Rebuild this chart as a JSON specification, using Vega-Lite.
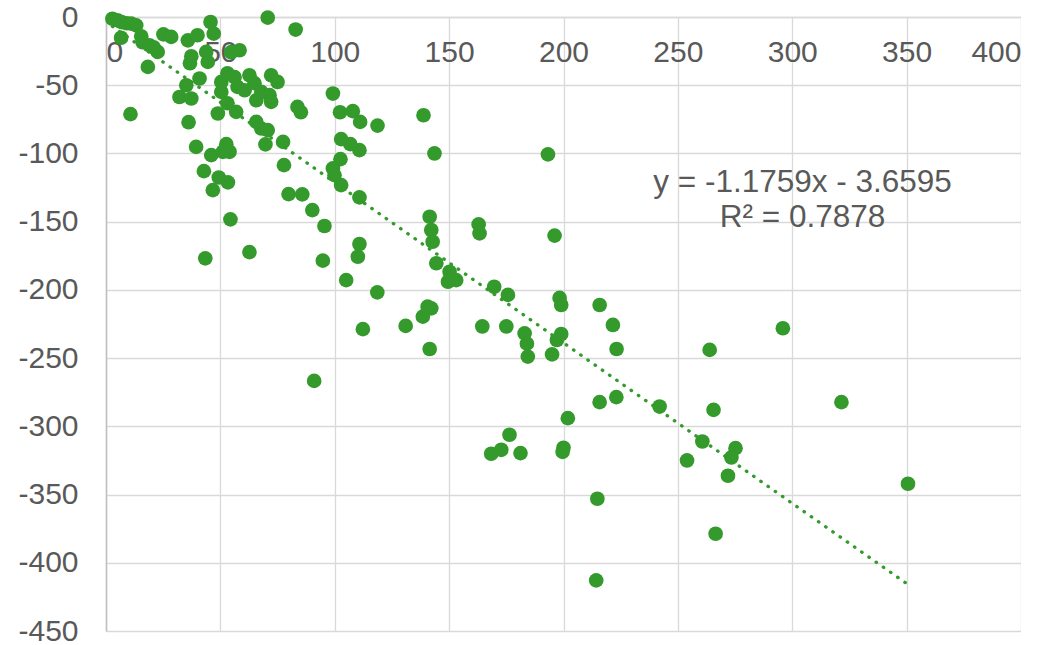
{
  "$schema": "https://vega.github.io/schema/vega-lite/v6.json",
  "width": 915,
  "height": 614,
  "autosize": {"type": "none"},
  "padding": {"left": 106, "top": 17, "right": 0, "bottom": 14},
  "background": "white",
  "config": {
    "view": {"stroke": null},
    "font": "Liberation Sans",
    "axis": {"labelFont": "Liberation Sans", "labelFontSize": 30, "labelColor": "#595959", "ticks": false, "title": null, "gridColor": "#d9d9d9", "gridWidth": 1.3}
  },
  "datasets": {
    "pts": [
      {"x":2.8,"y":-1.3},{"x":5.0,"y":-2.4},{"x":6.8,"y":-3.7},{"x":9.0,"y":-4.6},{"x":11.0,"y":-4.8},{"x":13.2,"y":-6.1},{"x":6.6,"y":-15.2},{"x":15.4,"y":-14.1},{"x":16.0,"y":-18.5},{"x":19.0,"y":-20.7},{"x":20.8,"y":-22.2},{"x":22.6,"y":-25.6},{"x":25.1,"y":-12.7},{"x":28.5,"y":-14.6},{"x":18.3,"y":-36.6},{"x":10.7,"y":-71.2},{"x":45.7,"y":-3.7},{"x":47.1,"y":-12.2},{"x":35.8,"y":-17.1},{"x":40.0,"y":-13.4},{"x":37.3,"y":-28.8},{"x":36.7,"y":-33.9},{"x":43.8,"y":-25.6},{"x":44.5,"y":-32.9},{"x":40.9,"y":-45.1},{"x":35.1,"y":-50.0},{"x":32.1,"y":-58.6},{"x":37.3,"y":-59.7},{"x":58.4,"y":-24.4},{"x":54.7,"y":-25.8},{"x":70.7,"y":-0.5},{"x":82.9,"y":-9.2},{"x":48.9,"y":-70.7},{"x":36.1,"y":-77.1},{"x":53.1,"y":-41.2},{"x":56.2,"y":-44.1},{"x":62.7,"y":-42.7},{"x":64.9,"y":-48.5},{"x":72.2,"y":-42.7},{"x":75.0,"y":-47.6},{"x":50.4,"y":-47.6},{"x":57.5,"y":-51.2},{"x":60.6,"y":-53.7},{"x":67.9,"y":-54.9},{"x":71.5,"y":-57.3},{"x":72.2,"y":-62.2},{"x":50.4,"y":-54.9},{"x":56.9,"y":-69.5},{"x":53.1,"y":-63.2},{"x":65.7,"y":-61.0},{"x":83.7,"y":-65.9},{"x":65.7,"y":-76.9},{"x":67.9,"y":-81.7},{"x":70.7,"y":-82.9},{"x":39.4,"y":-95.2},{"x":46.0,"y":-101.2},{"x":52.6,"y":-93.2},{"x":54.0,"y":-98.8},{"x":51.1,"y":-98.8},{"x":42.8,"y":-113.0},{"x":49.3,"y":-117.6},{"x":53.3,"y":-121.2},{"x":46.7,"y":-126.9},{"x":69.7,"y":-93.4},{"x":77.4,"y":-91.5},{"x":77.8,"y":-108.6},{"x":79.8,"y":-129.8},{"x":54.4,"y":-148.3},{"x":43.4,"y":-176.9},{"x":62.7,"y":-172.3},{"x":99.2,"y":-56.1},{"x":85.2,"y":-69.8},{"x":102.3,"y":-69.8},{"x":107.9,"y":-69.0},{"x":111.1,"y":-76.9},{"x":118.7,"y":-79.6},{"x":138.8,"y":-72.0},{"x":102.8,"y":-89.5},{"x":106.8,"y":-93.2},{"x":110.8,"y":-97.6},{"x":102.5,"y":-104.2},{"x":99.2,"y":-111.0},{"x":99.9,"y":-115.9},{"x":102.8,"y":-123.2},{"x":110.8,"y":-132.2},{"x":85.8,"y":-130.0},{"x":90.2,"y":-141.5},{"x":95.5,"y":-153.2},{"x":110.8,"y":-166.4},{"x":110.1,"y":-175.7},{"x":94.8,"y":-178.6},{"x":105.0,"y":-192.8},{"x":118.6,"y":-201.8},{"x":112.3,"y":-228.8},{"x":131.0,"y":-226.4},{"x":138.5,"y":-219.6},{"x":140.6,"y":-212.3},{"x":91.0,"y":-266.7},{"x":141.5,"y":-146.4},{"x":142.2,"y":-156.1},{"x":142.8,"y":-164.7},{"x":141.5,"y":-243.3},{"x":143.6,"y":-100.0},{"x":193.2,"y":-100.7},{"x":162.9,"y":-152.0},{"x":163.3,"y":-158.6},{"x":196.1,"y":-160.2},{"x":144.4,"y":-180.5},{"x":150.2,"y":-186.7},{"x":149.5,"y":-194.0},{"x":153.1,"y":-192.8},{"x":169.7,"y":-197.7},{"x":175.7,"y":-203.7},{"x":198.3,"y":-205.9},{"x":199.0,"y":-211.1},{"x":215.8,"y":-211.1},{"x":221.6,"y":-225.7},{"x":223.2,"y":-243.3},{"x":142.2,"y":-213.5},{"x":164.5,"y":-226.8},{"x":175.0,"y":-226.8},{"x":183.0,"y":-231.9},{"x":184.0,"y":-239.4},{"x":184.4,"y":-248.9},{"x":195.0,"y":-247.3},{"x":199.0,"y":-232.3},{"x":197.1,"y":-236.7},{"x":215.8,"y":-282.3},{"x":223.1,"y":-278.6},{"x":201.9,"y":-294.0},{"x":176.4,"y":-306.2},{"x":172.8,"y":-317.2},{"x":168.4,"y":-320.1},{"x":181.2,"y":-319.6},{"x":200.0,"y":-315.7},{"x":199.6,"y":-318.7},{"x":214.8,"y":-353.1},{"x":214.3,"y":-412.9},{"x":295.9,"y":-228.1},{"x":263.9,"y":-244.0},{"x":321.5,"y":-282.3},{"x":242.0,"y":-285.5},{"x":265.6,"y":-287.9},{"x":260.7,"y":-311.1},{"x":275.2,"y":-316.0},{"x":273.4,"y":-322.8},{"x":254.0,"y":-325.0},{"x":271.9,"y":-336.2},{"x":350.6,"y":-342.1},{"x":266.5,"y":-378.7}
    ],
    "trend": [{"x": 2.8, "y": -6.95}, {"x": 350.6, "y": -415.93}],
    "eq": [{"label": ["y = -1.1759x - 3.6595", "R² = 0.7878"]}]
  },
  "layer": [
    {
      "data": {"name": "pts"},
      "mark": {"type": "circle", "size": 215, "color": "#339a2b", "opacity": 1},
      "encoding": {
        "x": {"field": "x", "type": "quantitative",
          "scale": {"domain": [0, 400], "nice": false},
          "axis": {"orient": "bottom", "offset": -614, "values": [0,50,100,150,200,250,300,350,400], "grid": true, "domainColor": "#d9d9d9", "domainWidth": 1.3, "labelPadding": 20, "labelBaseline": "top", "labelExpr": "'' + datum.value"}},
        "y": {"field": "y", "type": "quantitative",
          "scale": {"domain": [-450, 0], "nice": false},
          "axis": {"orient": "left", "values": [-450,-400,-350,-300,-250,-200,-150,-100,-50,0], "grid": true, "domainColor": "#bfbfbf", "domainWidth": 1.5, "labelPadding": 28, "labelExpr": "'' + datum.value"}}
      }
    },
    {
      "data": {"name": "trend"},
      "mark": {"type": "line", "color": "#339a2b", "strokeWidth": 3.3, "strokeCap": "round", "strokeDash": [0.5, 8.3]},
      "encoding": {
        "x": {"field": "x", "type": "quantitative"},
        "y": {"field": "y", "type": "quantitative"}
      }
    },
    {
      "data": {"name": "eq"},
      "mark": {"type": "text", "font": "Liberation Sans", "fontSize": 31.5, "color": "#595959", "align": "center", "baseline": "middle", "lineHeight": 35},
      "encoding": {
        "x": {"datum": 304.5},
        "y": {"datum": -122},
        "text": {"field": "label"}
      }
    }
  ]
}
